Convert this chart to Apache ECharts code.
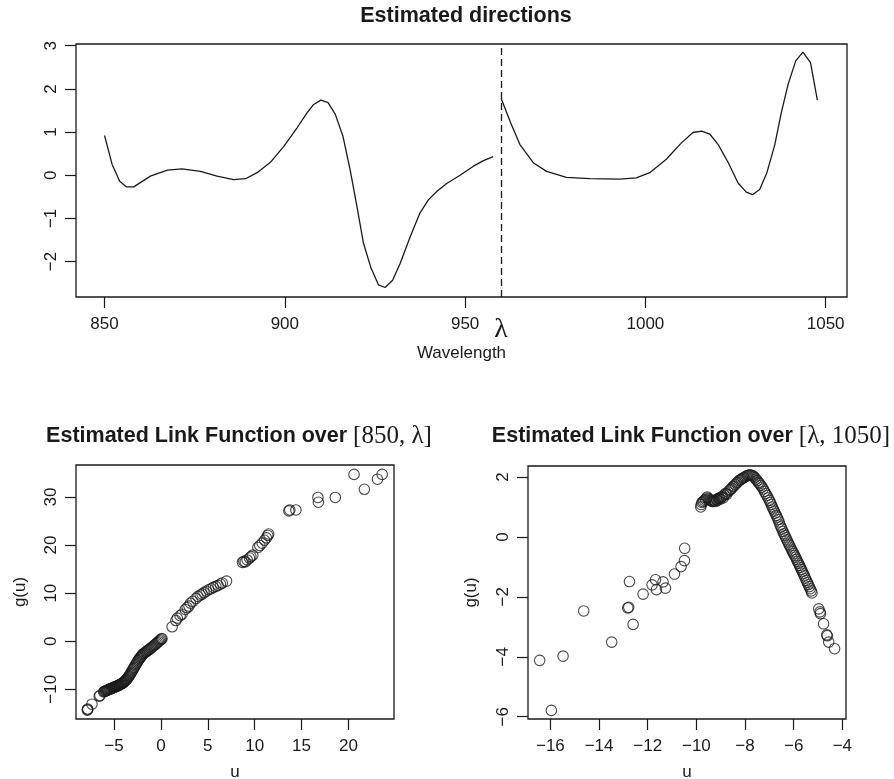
<!DOCTYPE html>
<html><head><meta charset="utf-8">
<script src="https://cdn.jsdelivr.net/npm/echarts@6/dist/echarts.min.js"></script>
<style>html,body{margin:0;padding:0;background:#fff}#c{width:894px;height:779px}</style>
</head><body><div id="c"></div>
<script>
const lambda = 960;

const wavelengthLeft = [850, 852.1, 854.2, 856.1, 858.1, 862.7, 867.4, 871.5, 876.6, 881.2, 885.8, 889.1, 892.3, 896, 899.7, 903.4, 906.2, 908, 910, 912, 914, 916.1, 918.1, 920, 921.8, 923.9, 926, 927.8, 929.9, 932, 934.8, 937.5, 939.8, 942.2, 944.9, 948.6, 952.3, 955.1, 957.8];
const directionLeft = [0.92, 0.25, -0.14, -0.27, -0.27, -0.02, 0.12, 0.15, 0.09, -0.02, -0.10, -0.08, 0.06, 0.30, 0.67, 1.10, 1.45, 1.64, 1.74, 1.68, 1.41, 0.91, 0.13, -0.72, -1.57, -2.15, -2.54, -2.60, -2.43, -2.04, -1.42, -0.87, -0.57, -0.37, -0.19, 0.0, 0.21, 0.34, 0.43];
const wavelengthRight = [960, 962.6, 965.2, 968.9, 972.6, 978.1, 984.6, 992.9, 997.5, 1001.2, 1005.8, 1010, 1013.2, 1015.6, 1017.9, 1020.2, 1023, 1025.7, 1028, 1029.7, 1031.7, 1033.7, 1035.9, 1037.7, 1039.6, 1041.7, 1043.7, 1045.8, 1047.7];
const directionRight = [1.78, 1.22, 0.71, 0.29, 0.09, -0.05, -0.08, -0.09, -0.06, 0.06, 0.37, 0.75, 0.99, 1.02, 0.95, 0.71, 0.29, -0.18, -0.39, -0.45, -0.33, 0.06, 0.71, 1.45, 2.11, 2.65, 2.85, 2.61, 1.74];

const linkLeftU = [-7.84, -7.82, -7.80, -7.35, -6.58, -6.50,
  -6.10, -6.02, -5.95, -5.88, -5.80, -5.74, -5.66, -5.60, -5.52, -5.45, -5.38, -5.30, -5.24, -5.16, -5.10, -5.02, -4.95, -4.88, -4.80, -4.72, -4.66, -4.58, -4.50, -4.44, -4.36, -4.28, -4.20, -4.12, -4.05, -3.98, -3.90, -3.82, -3.75, -3.68, -3.60, -3.52, -3.45, -3.38, -3.30, -3.22, -3.15, -3.08, -3.00, -2.92, -2.85, -2.76, -2.68, -2.60, -2.52, -2.44, -2.36, -2.28, -2.20, -2.12, -2.04, -1.95, -1.86, -1.76, -1.66, -1.56, -1.45, -1.34, -1.22, -1.10, -0.98, -0.86, -0.74, -0.62, -0.50, -0.38, -0.26, -0.15, -0.05, 0.05, 0.12,
  1.20, 1.60, 1.75, 2.05, 2.25, 2.60, 2.80, 3.00, 3.15, 3.40, 3.75, 3.95, 4.20, 4.40, 4.60, 4.85, 5.10, 5.35, 5.60, 5.85, 6.10, 6.35, 6.55, 7.00,
  8.70, 8.85, 9.00, 9.20, 9.45, 9.60, 9.80, 10.35, 10.55, 10.80, 11.05, 11.25, 11.40, 11.50,
  13.65, 13.75, 14.40, 16.75, 16.80, 18.60, 20.60, 21.70, 23.10, 23.60];
const linkLeftG = [-14.35, -14.2, -14.1, -13.1, -11.45, -11.3,
  -10.55, -10.45, -10.4, -10.35, -10.3, -10.2, -10.15, -10.1, -10.0, -9.95, -9.9, -9.85, -9.8, -9.72, -9.68, -9.6, -9.55, -9.5, -9.45, -9.38, -9.3, -9.25, -9.18, -9.1, -9.02, -8.95, -8.85, -8.75, -8.65, -8.55, -8.42, -8.3, -8.15, -8.0, -7.82, -7.6, -7.4, -7.2, -6.95, -6.7, -6.45, -6.2, -5.95, -5.7, -5.45, -5.15, -4.9, -4.6, -4.35, -4.1, -3.85, -3.6, -3.4, -3.2, -3.0, -2.8, -2.6, -2.45, -2.3, -2.15, -2.0, -1.85, -1.7, -1.5, -1.3, -1.1, -0.9, -0.7, -0.5, -0.3, -0.1, 0.1, 0.3, 0.45, 0.55,
  3.0, 4.3, 4.8, 5.3, 5.6, 6.6, 7.0, 7.3, 7.9, 8.3, 8.9, 9.3, 9.6, 9.8, 10.1, 10.4, 10.7, 10.9, 11.2, 11.4, 11.6, 11.9, 12.1, 12.5,
  16.4, 16.6, 16.5, 16.9, 17.3, 17.6, 17.9, 19.5, 19.9, 20.4, 21.0, 21.5, 22.0, 22.3,
  27.1, 27.3, 27.3, 29.9, 28.9, 29.9, 34.7, 31.6, 33.7, 34.7];

const linkRightU = [-16.44, -15.96, -15.48, -14.63, -13.48, -12.82, -12.78, -12.75, -12.60, -12.19, -11.82, -11.68, -11.64, -11.37, -11.27, -10.90, -10.63, -10.49, -10.48,
  -9.82, -9.80, -9.77, -9.72, -9.68, -9.62, -9.58, -9.55, -9.50, -9.46, -9.42, -9.38, -9.34, -9.30, -9.26, -9.22, -9.18, -9.14, -9.10, -9.06, -9.02, -8.98, -8.94, -8.90, -8.85, -8.80, -8.75, -8.70, -8.65, -8.60, -8.55, -8.50, -8.45, -8.40, -8.35, -8.30, -8.25, -8.20, -8.15, -8.10, -8.05, -8.00, -7.95, -7.90, -7.85, -7.80, -7.75, -7.70, -7.65, -7.60, -7.55, -7.50, -7.45, -7.40, -7.35, -7.30, -7.25, -7.20, -7.15, -7.10, -7.05, -7.00, -6.96, -6.92, -6.88, -6.84, -6.80, -6.76, -6.72, -6.68, -6.64, -6.60, -6.56, -6.52, -6.48, -6.44, -6.40, -6.36, -6.32, -6.28, -6.24, -6.20, -6.16, -6.12, -6.08, -6.04, -6.00, -5.96, -5.92, -5.88, -5.84, -5.80, -5.76, -5.72, -5.68, -5.64, -5.60, -5.56, -5.52, -5.48, -5.44, -5.40, -5.36, -5.32, -5.28, -5.25,
  -4.97, -4.92, -4.90, -4.77, -4.64, -4.62, -4.56, -4.32];
const linkRightG = [-4.12, -5.79, -3.98, -2.47, -3.51, -2.37, -2.35, -1.49, -2.92, -1.91, -1.60, -1.43, -1.76, -1.50, -1.71, -1.24, -0.99, -0.79, -0.38,
  1.00, 1.08, 1.15, 1.18, 1.22, 1.25, 1.30, 1.33, 1.28, 1.24, 1.22, 1.20, 1.18, 1.20, 1.22, 1.18, 1.25, 1.22, 1.28, 1.30, 1.26, 1.32, 1.35, 1.30, 1.40, 1.45, 1.42, 1.50, 1.55, 1.58, 1.62, 1.68, 1.70, 1.75, 1.80, 1.83, 1.88, 1.90, 1.93, 1.96, 1.98, 2.00, 2.03, 2.05, 2.06, 2.07, 2.06, 2.05, 2.02, 1.98, 1.93, 1.88, 1.82, 1.78, 1.72, 1.66, 1.60, 1.52, 1.45, 1.38, 1.30, 1.22, 1.15, 1.08, 1.00, 0.93, 0.86, 0.79, 0.72, 0.66, 0.58, 0.50, 0.40, 0.33, 0.26, 0.18, 0.10, 0.04, -0.03, -0.10, -0.17, -0.24, -0.30, -0.37, -0.44, -0.50, -0.56, -0.62, -0.68, -0.75, -0.82, -0.88, -0.95, -1.02, -1.09, -1.16, -1.23, -1.30, -1.38, -1.45, -1.52, -1.59, -1.66, -1.73, -1.80, -1.87,
  -2.40, -2.50, -2.56, -2.90, -3.27, -3.30, -3.51, -3.73];

const topXTicks = [850, 900, 950, 1000, 1050];
const topXLabels = [850, 900, 950, lambda, 1000, 1050];
const topYTicks = [-2, -1, 0, 1, 2, 3];
const leftXTicks = [-5, 0, 5, 10, 15, 20];
const leftYTicks = [-10, 0, 10, 20, 30];
const rightXTicks = [-16, -14, -12, -10, -8, -6, -4];
const rightYTicks = [-6, -4, -2, 0, 2];

const zip = (a, b) => a.map((v, i) => [v, b[i]]);
const ink = '#1a1a1a';
const SANS = 'Liberation Sans, Arial, Helvetica, sans-serif';
const SERIF = 'Liberation Serif, Times New Roman, serif';
const fmt = v => String(v).replace('-', '\u2212');

function xAx(gi, min, max, ticks, labels, name, nameGap) {
  return {
    type: 'value', gridIndex: gi, min, max,
    axisLine: { show: false, onZero: false },
    axisTick: { show: true, inside: false, length: 11, customValues: ticks, lineStyle: { color: ink, width: 1.2 } },
    axisLabel: { customValues: labels, fontSize: 17, fontFamily: SANS, color: ink, margin: 19, formatter: fmt },
    splitLine: { show: false },
    name, nameLocation: 'middle', nameGap,
    nameTextStyle: { fontSize: 17, fontFamily: SANS, color: ink }
  };
}
function yAx(gi, min, max, ticks, name, nameGap) {
  return {
    type: 'value', gridIndex: gi, min, max,
    axisLine: { show: false, onZero: false },
    axisTick: { show: true, inside: false, length: 11, customValues: ticks, lineStyle: { color: ink, width: 1.2 } },
    axisLabel: { customValues: ticks, fontSize: 17, fontFamily: SANS, color: ink, margin: 16, rotate: 90, formatter: fmt },
    splitLine: { show: false },
    name, nameLocation: 'middle', nameGap, nameRotate: 90,
    nameTextStyle: { fontSize: 17, fontFamily: SANS, color: ink }
  };
}
const gridBox = { show: true, borderColor: ink, borderWidth: 1.3, backgroundColor: 'transparent', containLabel: false, outerBoundsMode: 'none' };

const topX = xAx(0, 842.08, 1055.92, topXTicks, topXLabels, 'Wavelength', 30);
topX.axisLabel.formatter = v => (v === lambda ? '{l|λ}' : fmt(v));
topX.axisLabel.rich = { l: { fontFamily: SERIF, fontSize: 28, color: ink } };

const scatterStyle = { color: 'rgba(0,0,0,0)', borderColor: ink, borderWidth: 1.1 };
const titleRich = {
  b: { fontFamily: SANS, fontWeight: 'bold', fontSize: 21.5, color: ink },
  s: { fontFamily: SERIF, fontWeight: 'normal', fontSize: 25, color: ink }
};

const option = {
  animation: false,
  backgroundColor: '#fff',
  title: [
    { text: 'Estimated directions', left: 461, top: 0, textAlign: 'center',
      textStyle: { fontFamily: SANS, fontWeight: 'bold', fontSize: 21.5, color: ink } },
    { text: '{b|Estimated Link Function over }{s|[850, λ]}', left: 234, top: 419, textAlign: 'center',
      textStyle: { fontWeight: 'normal', rich: titleRich } },
    { text: '{b|Estimated Link Function over }{s|[λ, 1050]}', left: 686, top: 419, textAlign: 'center',
      textStyle: { fontWeight: 'normal', rich: titleRich } }
  ],
  grid: [
    Object.assign({ left: 76, top: 44, width: 771, height: 253 }, gridBox),
    Object.assign({ left: 76, top: 465, width: 318, height: 254 }, gridBox),
    Object.assign({ left: 528, top: 466, width: 318, height: 253 }, gridBox)
  ],
  xAxis: [
    topX,
    xAx(1, -9.05, 24.86, leftXTicks, leftXTicks, 'u', 45),
    xAx(2, -16.92, -3.85, rightXTicks, rightXTicks, 'u', 45)
  ],
  yAxis: [
    yAx(0, -2.82, 3.04, topYTicks, '', 40),
    yAx(1, -16.18, 36.65, leftYTicks, 'g(u)', 47),
    yAx(2, -6.077, 2.367, rightYTicks, 'g(u)', 48)
  ],
  series: [
    { type: 'line', xAxisIndex: 0, yAxisIndex: 0, data: zip(wavelengthLeft, directionLeft), showSymbol: false,
      lineStyle: { color: ink, width: 1.3 },
      markLine: { silent: true, symbol: 'none', label: { show: false },
        lineStyle: { color: ink, width: 1.3, type: [7, 4] }, data: [{ xAxis: lambda }] } },
    { type: 'line', xAxisIndex: 0, yAxisIndex: 0, data: zip(wavelengthRight, directionRight), showSymbol: false,
      lineStyle: { color: ink, width: 1.3 } },
    { type: 'scatter', xAxisIndex: 1, yAxisIndex: 1, data: zip(linkLeftU, linkLeftG), symbol: 'circle', symbolSize: 10.5, itemStyle: scatterStyle },
    { type: 'scatter', xAxisIndex: 2, yAxisIndex: 2, data: zip(linkRightU, linkRightG), symbol: 'circle', symbolSize: 10.5, itemStyle: scatterStyle }
  ]
};
echarts.init(document.getElementById('c'), null, { renderer: 'canvas' }).setOption(option);
</script></body></html>
